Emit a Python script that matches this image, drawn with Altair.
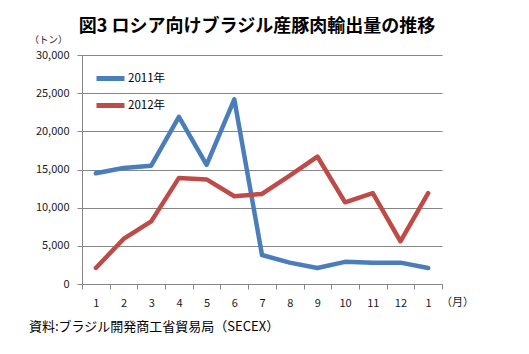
import altair as alt
import pandas as pd

months = ["1", "2", "3", "4", "5", "6", "7", "8", "9", "10", "11", "12", "1"]
s2011 = [14500, 15200, 15500, 21900, 15600, 24200, 3800, 2800, 2100, 2900, 2800, 2800, 2100]
s2012 = [2100, 5900, 8200, 13900, 13700, 11500, 11800, 14200, 16700, 10700, 11900, 5600, 11900]
series = ["2011年", "2012年"]
colors = ["#4A7EBB", "#BE4B48"]
y_ticks = [0, 5000, 10000, 15000, 20000, 25000, 30000]
title_text = "図3  ロシア向けブラジル産豚肉輸出量の推移"
source_text = "資料:ブラジル開発商工省貿易局（SECEX）"

FONT = "Noto Sans CJK JP"
GRID = "#868686"

rows = []
for i in range(len(months)):
    rows.append({"pos": i + 0.5, "series": series[0], "value": s2011[i], "ord": 1})
    rows.append({"pos": i + 0.5, "series": series[1], "value": s2012[i], "ord": 0})
df = pd.DataFrame(rows)

label_arr = "[" + ",".join("'%s'" % m for m in months) + "]"
x_vals = [k * 0.5 for k in range(0, 2 * len(months) + 1)]

x_axis = alt.Axis(
    values=x_vals,
    labelExpr="datum.value % 1 == 0 ? '' : " + label_arr + "[floor(datum.value)]",
    labelOverlap=False,
    labelFlush=False,
    grid=False,
    domainColor=GRID,
    tickColor=GRID,
    tickSize=5,
    tickOpacity={"condition": {"test": "datum.value % 1 != 0", "value": 0}, "value": 1},
    labelPadding=8,
    labelFont=FONT,
    labelFontSize=11,
    labelColor="#1a1a1a",
    title="（月）",
    titleFont=FONT,
    titleFontSize=11,
    titleFontWeight="normal",
    titleColor="#1a1a1a",
    titleX=375,
    titleY=18,
    titleAlign="center",
    titleBaseline="middle",
)

y_axis = alt.Axis(
    values=y_ticks,
    labelExpr="format(datum.value, ',d')",
    grid=True,
    gridColor=GRID,
    gridWidth=1,
    domainColor=GRID,
    tickColor=GRID,
    tickSize=5,
    labelPadding=8,
    labelFont=FONT,
    labelFontSize=11,
    labelColor="#1a1a1a",
    title="（トン）",
    titleFont=FONT,
    titleFontSize=9.5,
    titleFontWeight="normal",
    titleColor="#1a1a1a",
    titleAngle=0,
    titleX=-34,
    titleY=-16,
    titleAlign="center",
    titleBaseline="middle",
)

lines = alt.Chart(df).mark_line(strokeWidth=4.5, strokeCap="round", strokeJoin="round").encode(
    x=alt.X("pos:Q", scale=alt.Scale(domain=[0, len(months)], nice=False, zero=False), axis=x_axis),
    y=alt.Y("value:Q", scale=alt.Scale(domain=[0, 30000], nice=False), axis=y_axis),
    color=alt.Color(
        "series:N",
        scale=alt.Scale(domain=series, range=colors),
        legend=alt.Legend(
            orient="none",
            legendX=12,
            legendY=7,
            title=None,
            symbolType="stroke",
            symbolSize=784,
            symbolStrokeWidth=5,
            labelFont=FONT,
            labelFontSize=11.5,
            labelColor="#000000",
            labelOffset=1,
            rowPadding=-6,
            padding=0,
        ),
    ),
    order=alt.Order("ord:Q"),
)

src_df = pd.DataFrame({"t": [source_text]})
source = alt.Chart(src_df).mark_text(
    font=FONT, fontSize=13, align="left", baseline="middle", color="#000000"
).encode(text="t:N", x=alt.value(-53), y=alt.value(272))

chart = alt.layer(lines, source).properties(
    width=360,
    height=229,
    padding={"left": 82, "top": 55, "right": 87, "bottom": 70},
    autosize=alt.AutoSizeParams(type="none"),
    title=alt.TitleParams(
        text=title_text,
        font=FONT,
        fontSize=18,
        fontWeight="bold",
        color="#000000",
        anchor="middle",
        dx=-5,
        offset=-2,
    ),
).configure_view(stroke=None)

chart.save("out.html", embed_options={"renderer": "svg", "actions": False})
